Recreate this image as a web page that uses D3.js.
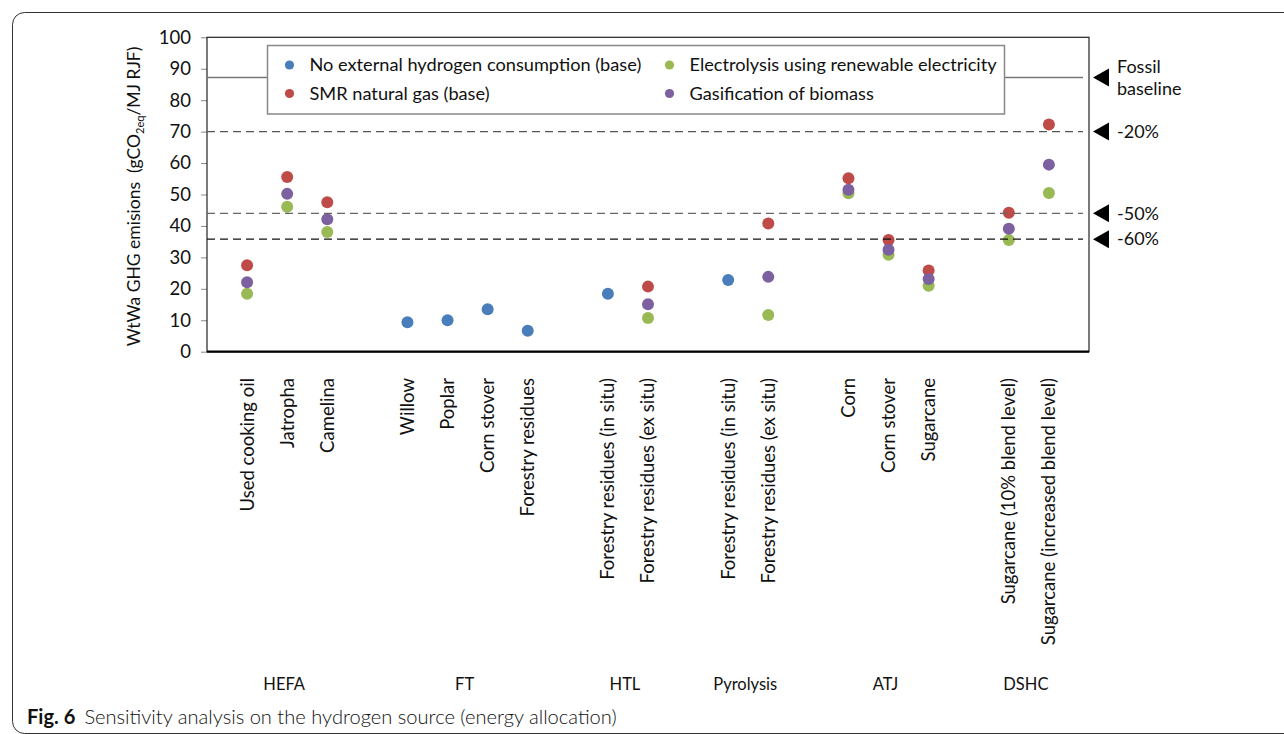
<!DOCTYPE html>
<html>
<head>
<meta charset="utf-8">
<script src="https://cdn.jsdelivr.net/npm/d3@7"></script>
<style>
  html, body { margin: 0; padding: 0; background: #fff; }
  svg { display: block; }
  text { font-family: Lato, "Open Sans", sans-serif; fill: #111; }
</style>
</head>
<body>
<svg id="chart" width="1284" height="734"></svg>
<script>
// Pathways and feedstocks (x position = slot index on the category axis)
const groups = ["HEFA", "FT", "HTL", "Pyrolysis", "ATJ", "DSHC"];
const categories = [
  "Used cooking oil", "Jatropha", "Camelina",
  "Willow", "Poplar", "Corn stover", "Forestry residues",
  "Forestry residues (in situ)", "Forestry residues (ex situ)",
  "Forestry residues (in situ)", "Forestry residues (ex situ)",
  "Corn", "Corn stover", "Sugarcane",
  "Sugarcane (10% blend level)", "Sugarcane (increased blend level)"
];
const categoryGroup = [0, 0, 0, 1, 1, 1, 1, 2, 2, 3, 3, 4, 4, 4, 5, 5];
const slots = [1, 2, 3, 5, 6, 7, 8, 10, 11, 13, 14, 16, 17, 18, 20, 21];

// WtWa GHG emissions, gCO2eq/MJ RJF (null = not applicable)
const seriesNames = [
  "No external hydrogen consumption (base)",
  "SMR natural gas (base)",
  "Electrolysis using renewable electricity",
  "Gasification of biomass"
];
const noExternalH2 = [null, null, null, 9.4, 10.0, 13.5, 6.7, 18.4, null, 22.8, null, null, null, null, null, null];
const smrNaturalGas = [27.5, 55.6, 47.5, null, null, null, null, null, 20.7, null, 40.8, 55.2, 35.5, 25.8, 44.2, 72.3];
const electrolysis = [18.4, 46.1, 38.1, null, null, null, null, null, 10.7, null, 11.7, 50.4, 30.8, 21.0, 35.5, 50.5];
const gasification = [22.1, 50.2, 42.1, null, null, null, null, null, 15.1, null, 23.8, 51.5, 32.4, 23.1, 39.1, 59.5];
const seriesColors = ["#4a7ebb", "#be4b48", "#98b954", "#7d60a0"];

// Reference levels
const refLabels = ["Fossil\nbaseline", "-20%", "-50%", "-60%"];
const refValues = [87.2, 70, 44, 35.8];

const yTicks = [0, 10, 20, 30, 40, 50, 60, 70, 80, 90, 100];

const svg = d3.select("#chart");

// outer figure frame
svg.append("rect")
  .attr("x", 12.5).attr("y", 12.5)
  .attr("width", 1300).attr("height", 721)
  .attr("rx", 12)
  .attr("fill", "none").attr("stroke", "#333").attr("stroke-width", 1);

const x = d3.scaleLinear().domain([0, 22]).range([207, 1089]);
const y = d3.scaleLinear().domain([0, 100]).range([351.7, 37.3]);

// y axis
const yAxis = svg.append("g")
  .attr("transform", `translate(${x(0)},0)`)
  .call(d3.axisLeft(y).tickValues(yTicks).tickSize(6).tickPadding(10));
yAxis.select(".domain").remove();
yAxis.selectAll(".tick line").attr("stroke", "#888");
yAxis.selectAll(".tick text")
  .style("font-family", "Lato, sans-serif")
  .style("font-size", "18.5px").attr("fill", "#111");

// plot frame
svg.append("rect")
  .attr("x", x(0)).attr("y", y(100))
  .attr("width", x(22) - x(0)).attr("height", y(0) - y(100))
  .attr("fill", "none").attr("stroke", "#222").attr("stroke-width", 1.2);
svg.append("line")
  .attr("x1", x(0)).attr("x2", x(22))
  .attr("y1", y(0)).attr("y2", y(0))
  .attr("stroke", "#000").attr("stroke-width", 2.2);

// y axis title
const yTitle = svg.append("text")
  .attr("transform", `translate(140,${(y(0) + y(100)) / 2 + 2}) rotate(-90)`)
  .attr("text-anchor", "middle")
  .style("white-space", "pre")
  .style("font-size", "17.5px");
yTitle.append("tspan").text("WtWa GHG emisions  (gCO");
yTitle.append("tspan").attr("dy", 4).style("font-size", "11px").text("2eq");
yTitle.append("tspan").attr("dy", -4).text("/MJ RJF)");

// reference line end on the right side
const refEnd = x(22) - 6;

// fossil baseline (solid, behind legend)
svg.append("line")
  .attr("x1", x(0)).attr("x2", refEnd)
  .attr("y1", y(refValues[0])).attr("y2", y(refValues[0]))
  .attr("stroke", "#777").attr("stroke-width", 1.5);

// legend
const legend = svg.append("g");
legend.append("rect")
  .attr("x", 267.5).attr("y", 45.5)
  .attr("width", 737).attr("height", 68.5)
  .attr("fill", "#fff").attr("stroke", "#888").attr("stroke-width", 1.5);
const legendOrder = [0, 2, 1, 3];
legendOrder.forEach((si, k) => {
  const col = k % 2, row = Math.floor(k / 2);
  const lx = 289.5 + col * 380, ly = 65 + row * 28.5;
  legend.append("circle").attr("cx", lx).attr("cy", ly).attr("r", 4.6)
    .attr("fill", seriesColors[si]);
  legend.append("text").attr("x", lx + 20).attr("y", ly).attr("dy", "0.35em")
    .style("font-size", "18.2px").text(seriesNames[si]);
});

// data points
const seriesData = [noExternalH2, smrNaturalGas, electrolysis, gasification];
seriesData.forEach((vals, si) => {
  svg.append("g").selectAll("circle")
    .data(vals.map((v, i) => ({ v, slot: slots[i] })).filter(d => d.v !== null))
    .join("circle")
    .attr("cx", d => x(d.slot))
    .attr("cy", d => y(d.v))
    .attr("r", 6)
    .attr("fill", seriesColors[si]);
});

// reduction target lines (dashed)
const dashColors = ["#555", "#666", "#111"];
refValues.slice(1).forEach((v, i) => {
  svg.append("line")
    .attr("x1", x(0)).attr("x2", refEnd)
    .attr("y1", y(v)).attr("y2", y(v))
    .attr("stroke", dashColors[i]).attr("stroke-width", 1.3)
    .attr("stroke-dasharray", "8,5");
});

// arrow markers and labels on the right
refValues.forEach((v, i) => {
  const yy = y(v);
  const tip = x(22) + 4;
  svg.append("path")
    .attr("d", `M${tip},${yy} L${tip + 16},${yy - 9} L${tip + 16},${yy + 9} Z`)
    .attr("fill", "#000");
  const lines = refLabels[i].split("\n");
  const t = svg.append("text")
    .attr("x", tip + 24)
    .attr("y", yy - (lines.length - 1) * 11)
    .style("font-size", "18px");
  lines.forEach((ln, j) => {
    t.append("tspan").attr("x", tip + 24).attr("dy", j === 0 ? "0.35em" : 22).text(ln);
  });
});

// category labels (vertical)
svg.append("g").selectAll("text")
  .data(categories)
  .join("text")
  .attr("transform", (d, i) => `translate(${x(slots[i])},378) rotate(-90)`)
  .attr("text-anchor", "end")
  .attr("dy", "0.35em")
  .style("font-size", "18.5px")
  .text(d => d);

// pathway labels
svg.append("g").selectAll("text")
  .data(groups)
  .join("text")
  .attr("x", (g, gi) => x(d3.mean(slots.filter((s, i) => categoryGroup[i] === gi))) - 3)
  .attr("y", 690)
  .attr("text-anchor", "middle")
  .style("font-size", "16.5px")
  .text(d => d);

// caption
const cap = svg.append("text").attr("x", 27).attr("y", 724).style("font-size", "20.1px").attr("fill", "#222");
cap.append("tspan").style("font-weight", "bold").text("Fig. 6");
cap.append("tspan").attr("dx", 9).style("font-weight", "300").text("Sensitivity analysis on the hydrogen source (energy allocation)");
</script>
</body>
</html>
